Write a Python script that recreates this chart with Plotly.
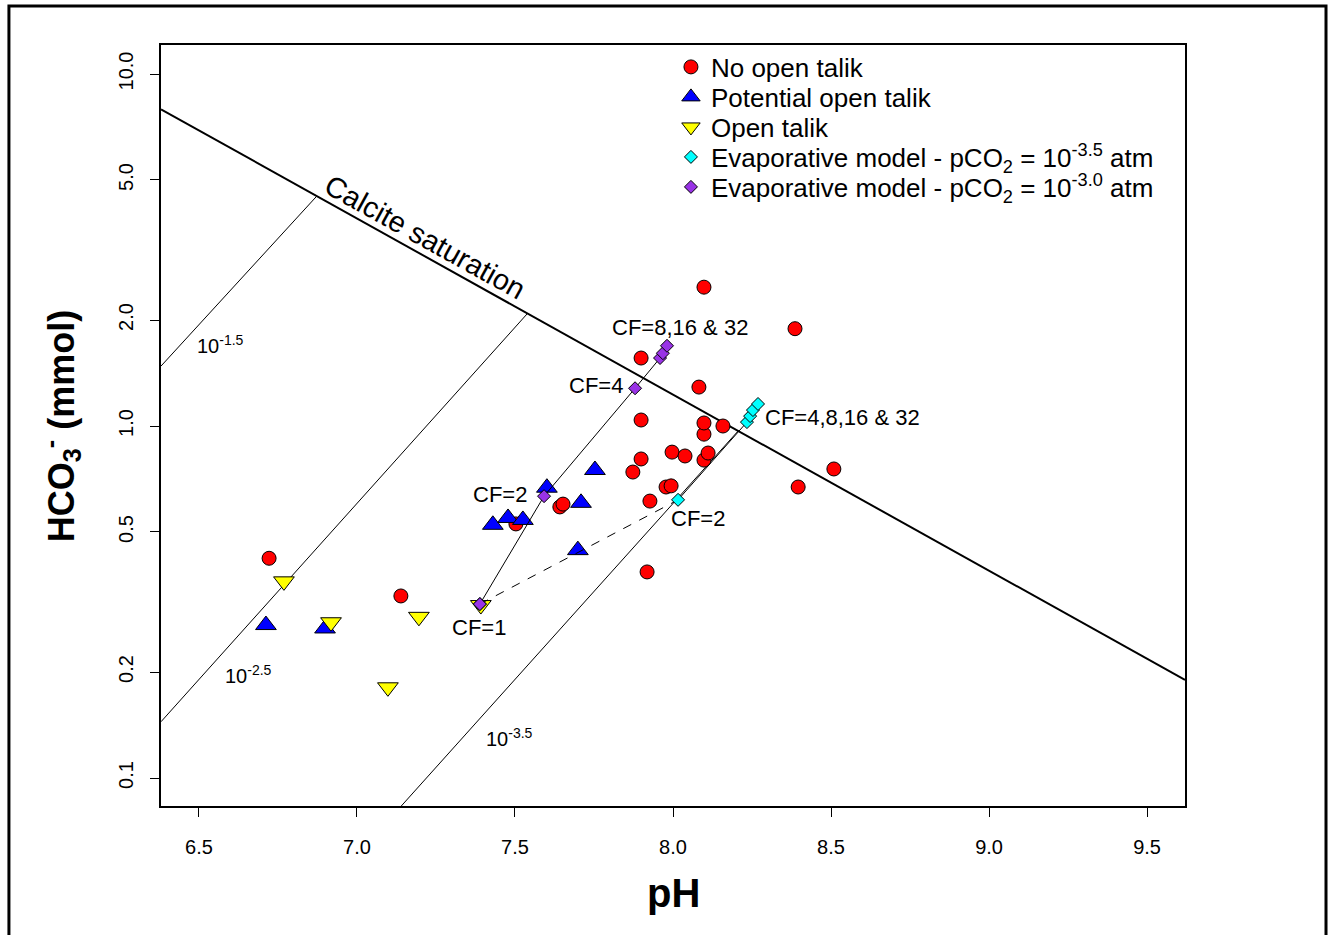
import math
import plotly.graph_objects as go

# ---------------- data ----------------
no_talik_ph = [6.722, 7.139, 7.503, 7.642, 7.652, 7.899, 7.899, 7.899, 7.873, 7.927, 7.918,
               7.978, 7.994, 7.997, 8.038, 8.098, 8.111, 8.098, 8.098, 8.158, 8.082, 8.098,
               8.386, 8.509, 8.396]
no_talik_hco3 = [0.421, 0.329, 0.527, 0.589, 0.600, 1.56, 1.04, 0.806, 0.74, 0.612, 0.385,
                 0.671, 0.676, 0.843, 0.822, 0.80, 0.838, 0.948, 1.02, 1.0, 1.29, 2.48,
                 1.89, 0.755, 0.671]

potential_ph = [6.712, 6.899, 7.430, 7.478, 7.525, 7.601, 7.709, 7.753, 7.699]
potential_hco3 = [0.272, 0.266, 0.524, 0.548, 0.541, 0.668, 0.605, 0.750, 0.444]

open_ph = [6.769, 6.918, 7.196, 7.098, 7.392]
open_hco3 = [0.362, 0.277, 0.287, 0.181, 0.310]

evap35_ph = [7.389, 8.016, 8.234, 8.244, 8.253, 8.269]
evap35_hco3 = [0.312, 0.617, 1.026, 1.067, 1.11, 1.155]

evap30_ph = [7.389, 7.592, 7.880, 7.959, 7.968, 7.981]
evap30_hco3 = [0.312, 0.632, 1.28, 1.56, 1.61, 1.69]

# reference lines (end points)
calcite_ph = [6.38, 9.62]
calcite_hco3 = [7.94, 0.19]
pco2_m15_ph = [6.38, 6.873]
pco2_m15_hco3 = [1.48, 4.50]
pco2_m25_ph = [6.38, 7.54]
pco2_m25_hco3 = [0.1445, 2.09]
pco2_m35_ph = [7.10, 8.207]
pco2_m35_hco3 = [0.0759, 0.97]

x_ticks = [6.5, 7.0, 7.5, 8.0, 8.5, 9.0, 9.5]
x_ticktext = ["6.5", "7.0", "7.5", "8.0", "8.5", "9.0", "9.5"]
y_ticks = [0.1, 0.2, 0.5, 1.0, 2.0, 5.0, 10.0]
y_ticktext = ["0.1", "0.2", "0.5", "1.0", "2.0", "5.0", "10.0"]

FONT = "Liberation Sans, Arial, Helvetica, sans-serif"
TICKFONT = "Liberation Sans Narrow, " + FONT

fig = go.Figure()

thin = dict(color="black", width=1)
for px_, py_ in [(pco2_m15_ph, pco2_m15_hco3), (pco2_m25_ph, pco2_m25_hco3),
                 (pco2_m35_ph, pco2_m35_hco3)]:
    fig.add_trace(go.Scatter(x=px_, y=py_, mode="lines", line=thin,
                             showlegend=False, hoverinfo="skip"))
fig.add_trace(go.Scatter(x=calcite_ph, y=calcite_hco3, mode="lines",
                         line=dict(color="black", width=2),
                         showlegend=False, hoverinfo="skip"))

outline = dict(color="black", width=1)
fig.add_trace(go.Scatter(x=no_talik_ph, y=no_talik_hco3, mode="markers",
                         name="No open talik", legend="legend",
                         marker=dict(symbol="circle", size=14, color="#FF0000", line=outline)))
fig.add_trace(go.Scatter(x=potential_ph, y=potential_hco3, mode="markers",
                         name="Potential open talik", legend="legend2",
                         marker=dict(symbol="triangle-up", size=18, color="#0000FF", line=outline)))
fig.add_trace(go.Scatter(x=open_ph, y=open_hco3, mode="markers",
                         name="Open talik", legend="legend3",
                         marker=dict(symbol="triangle-down", size=18, color="#FFFF00", line=outline)))

# model paths
fig.add_trace(go.Scatter(x=evap35_ph[:2], y=evap35_hco3[:2], mode="lines",
                         line=dict(color="black", width=1, dash="dash"),
                         showlegend=False, hoverinfo="skip"))
fig.add_trace(go.Scatter(x=evap35_ph[1:], y=evap35_hco3[1:], mode="lines",
                         line=thin, showlegend=False, hoverinfo="skip"))
fig.add_trace(go.Scatter(x=evap30_ph, y=evap30_hco3, mode="lines",
                         line=thin, showlegend=False, hoverinfo="skip"))

fig.add_trace(go.Scatter(x=evap35_ph, y=evap35_hco3, mode="markers",
                         name="Evaporative model - pCO<sub>2</sub> = 10<sup>-3.5</sup> atm",
                         legend="legend4",
                         marker=dict(symbol="diamond", size=10, color="#00FFFF", line=outline)))
fig.add_trace(go.Scatter(x=evap30_ph, y=evap30_hco3, mode="markers",
                         name="Evaporative model - pCO<sub>2</sub> = 10<sup>-3.0</sup> atm",
                         legend="legend5",
                         marker=dict(symbol="diamond", size=10, color="#9933E6", line=outline)))

# ---------------- annotations ----------------
ann = []
def data_text(txt, x, y, size, xanchor="center", angle=0):
    ann.append(dict(text=txt, x=x, y=y, xref="x", yref="y", showarrow=False,
                    xanchor=xanchor, yanchor="middle", textangle=angle,
                    font=dict(family=FONT, size=size, color="black")))

data_text("Calcite saturation", 7.215, math.log10(3.44), 29, angle=29)
data_text("10<sup>-1.5</sup>", 6.487, math.log10(1.70), 20, xanchor="left")
data_text("10<sup>-2.5</sup>", 6.576, math.log10(0.197), 20, xanchor="left")
data_text("10<sup>-3.5</sup>", 7.402, math.log10(0.130), 20, xanchor="left")
data_text("CF=8,16 &amp; 32", 8.022, math.log10(1.91), 22)
data_text("CF=4", 7.756, math.log10(1.30), 22)
data_text("CF=2", 7.4525, math.log10(0.641), 22)
data_text("CF=1", 7.386, math.log10(0.2685), 22)
data_text("CF=2", 8.079, math.log10(0.545), 22)
data_text("CF=4,8,16 &amp; 32", 8.285, math.log10(1.054), 22, xanchor="left")

ann.append(dict(text="<b>pH</b>", x=0.5, y=-0.1143, xref="paper", yref="paper",
                showarrow=False, xanchor="center", yanchor="middle",
                font=dict(family=FONT, size=40, color="black")))
ann.append(dict(text="<b>HCO<sub>3</sub><sup>-</sup> (mmol)</b>", x=-0.0977, y=0.499,
                xref="paper", yref="paper", showarrow=False, xanchor="center",
                yanchor="middle", textangle=-90,
                font=dict(family=FONT, size=36, color="black")))

legend_base = dict(x=0.498, xanchor="left", yanchor="middle", bgcolor="rgba(0,0,0,0)",
                   borderwidth=0, font=dict(family=FONT, size=26, color="black"))
rows = [0.9711, 0.9317, 0.8922, 0.8528, 0.8134]

fig.update_layout(
    width=1333, height=935, autosize=False,
    margin=dict(l=161, r=148, t=45, b=129),
    paper_bgcolor="white", plot_bgcolor="white",
    font=dict(family=FONT, color="black"),
    showlegend=True,
    legend=dict(legend_base, y=rows[0]),
    legend2=dict(legend_base, y=rows[1]),
    legend3=dict(legend_base, y=rows[2]),
    legend4=dict(legend_base, y=rows[3]),
    legend5=dict(legend_base, y=rows[4]),
    annotations=ann,
    xaxis=dict(range=[6.38, 9.62], tickvals=x_ticks, ticktext=x_ticktext,
               ticks="outside", ticklen=9, tickwidth=1, tickcolor="black",
               showline=True, linecolor="black", linewidth=2, mirror=True,
               showgrid=False, zeroline=False, ticklabelstandoff=13,
               tickfont=dict(family=TICKFONT, size=20)),
    yaxis=dict(type="log", range=[-1.0795, 1.0824], tickvals=y_ticks, ticktext=y_ticktext,
               ticks="outside", ticklen=9, tickwidth=1, tickcolor="black",
               showline=True, linecolor="black", linewidth=2, mirror=True,
               showgrid=False, zeroline=False, tickangle=-90, ticklabelstandoff=9,
               tickfont=dict(family=TICKFONT, size=20)),
    shapes=[dict(type="rect", xref="paper", yref="paper",
                 x0=-0.1485, x1=1.1377, y0=-0.18, y1=1.0512,
                 line=dict(color="black", width=3), fillcolor="rgba(0,0,0,0)", layer="below")],
)

fig.write_html("out.html")
